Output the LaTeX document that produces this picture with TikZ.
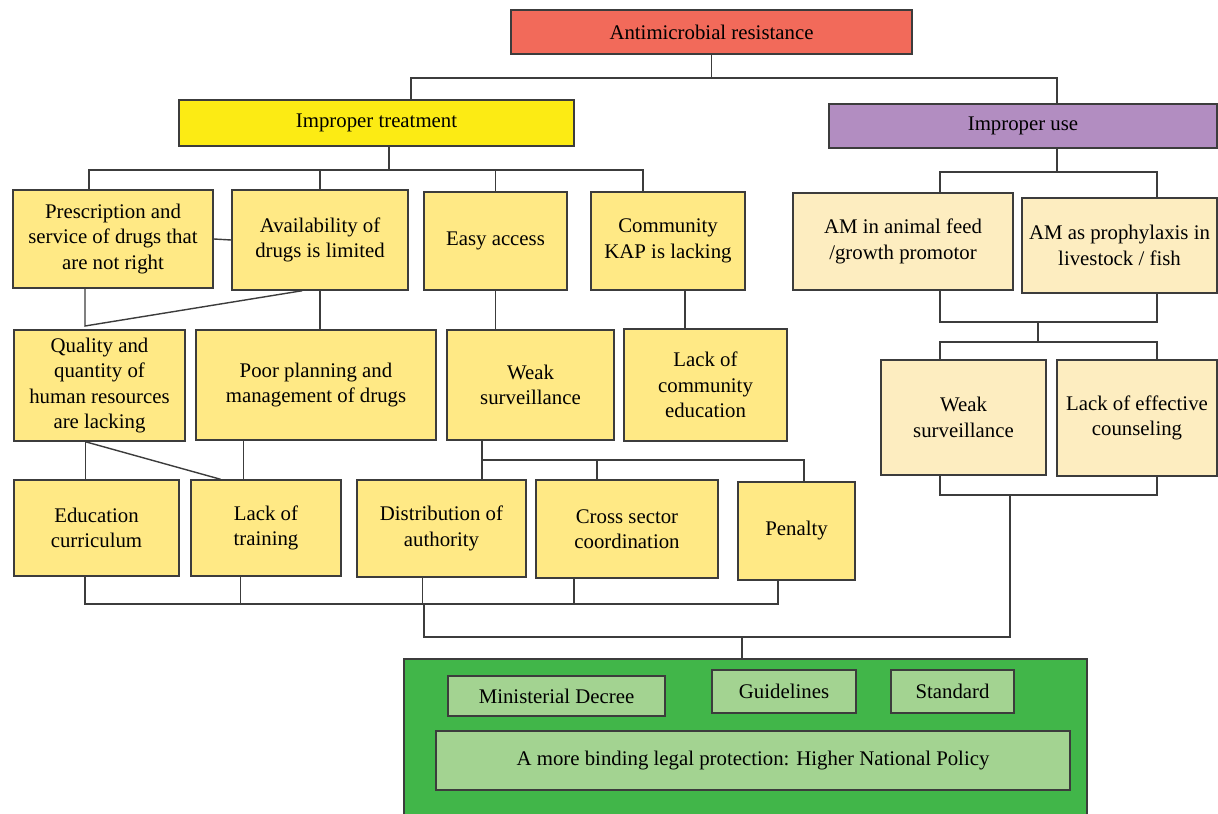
\documentclass[tikz,border=0pt]{standalone}
\usepackage{fontspec}
\setmainfont{Liberation Serif}
\usepackage{tikz}
\usetikzlibrary{calc}

\definecolor{linegray}{HTML}{3C3C3C}
\definecolor{amrred}{HTML}{F26A5A}
\definecolor{trtyellow}{HTML}{FCEB14}
\definecolor{usepurple}{HTML}{B28DC1}
\definecolor{causeyellow}{HTML}{FFE985}
\definecolor{animalcream}{HTML}{FDEDC0}
\definecolor{policygreen}{HTML}{41B649}
\definecolor{lawgreen}{HTML}{A3D391}

\newcommand{\boxfont}{\fontsize{14.8}{18.1}\selectfont}

\begin{document}
\begin{tikzpicture}[x=0.025cm,y=-0.025cm,
    box/.style={draw=linegray,line width=1pt,align=center,inner sep=2pt,font=\boxfont},
    root/.style={box,fill=amrred},
    treatment/.style={box,fill=trtyellow},
    usage/.style={box,fill=usepurple},
    cause/.style={box,fill=causeyellow},
    animal/.style={box,fill=animalcream},
    policy/.style={box,fill=policygreen},
    law/.style={box,fill=lawgreen},
    link/.style={draw=linegray,line width=1pt}]

  \useasboundingbox (0,0) rectangle (1218,814);

  % top level
  \node [root,minimum width=10.03cm,minimum height=1.1cm] (amr) at (711.5,32) {Antimicrobial resistance};
  \node [treatment,minimum width=9.88cm,minimum height=1.15cm] (trt) at (376.5,123) {Improper treatment};
  \node [usage,minimum width=9.7cm,minimum height=1.1cm] (use) at (1023,126) {Improper use};

  % improper treatment, first row
  \node [cause,minimum width=5cm,minimum height=2.45cm] (presc) at (113,239) {Prescription and\\service of drugs that\\are not right};
  \node [cause,minimum width=4.4cm,minimum height=2.5cm] (avail) at (320,240) {Availability of\\drugs is limited};
  \node [cause,minimum width=3.58cm,minimum height=2.45cm] (easy) at (495.5,241) {Easy access};
  \node [cause,minimum width=3.85cm,minimum height=2.45cm] (kap) at (668,241) {Community\\KAP is lacking};

  % improper use, first row
  \node [animal,minimum width=5.5cm,minimum height=2.43cm] (feed) at (903,241.5) {AM in animal feed\\/growth promotor};
  \node [animal,minimum width=4.88cm,minimum height=2.38cm] (proph) at (1119.5,245.5) {AM as prophylaxis in\\livestock / fish};

  % second row
  \node [cause,minimum width=4.28cm,minimum height=2.78cm] (qual) at (99.5,385.5) {Quality and\\quantity of\\human resources\\are lacking};
  \node [cause,minimum width=6cm,minimum height=2.75cm] (plan) at (316,385) {Poor planning and\\management of drugs};
  \node [cause,minimum width=4.18cm,minimum height=2.75cm] (weak) at (530.5,385) {Weak\\surveillance};
  \node [cause,minimum width=4.08cm,minimum height=2.8cm] (comm) at (705.5,385) {Lack of\\community\\education};
  \node [animal,minimum width=4.13cm,minimum height=2.88cm] (weak2) at (963.5,417.5) {Weak\\surveillance};
  \node [animal,minimum width=4cm,minimum height=2.9cm] (couns) at (1137,418) {Lack of effective\\counseling};

  % third row
  \node [cause,minimum width=4.13cm,minimum height=2.4cm] (edu) at (96.5,528) {Education\\curriculum};
  \node [cause,minimum width=3.75cm,minimum height=2.4cm] (train) at (266,528) {Lack of\\training};
  \node [cause,minimum width=4.23cm,minimum height=2.43cm] (dist) at (441.5,528.5) {Distribution of\\authority};
  \node [cause,minimum width=4.55cm,minimum height=2.45cm] (cross) at (627,529) {Cross sector\\coordination};
  \node [cause,minimum width=2.93cm,minimum height=2.45cm] (pen) at (796.5,531) {Penalty};

  % policy
  \node [policy,minimum width=17.08cm,minimum height=4.03cm] (pol) at (745.5,739.5) {};
  \node [law,minimum width=5.43cm,minimum height=1cm] (decree) at (556.5,696) {Ministerial Decree};
  \node [law,minimum width=3.6cm,minimum height=1.08cm] (guide) at (784,691.5) {Guidelines};
  \node [law,minimum width=3.08cm,minimum height=1.08cm] (std) at (952.5,691.5) {Standard};
  \node [law,minimum width=15.85cm,minimum height=1.48cm] (bind) at (753,760.5) {A more binding legal protection: Higher National Policy};

  % bus points
  \coordinate (top-l) at (411,78);
  \coordinate (top-r) at (1057,78);
  \coordinate (trt-m) at (389,170);
  \coordinate (trt-l) at (89,170);
  \coordinate (trt-r) at (643,170);
  \coordinate (use-l) at (940,172);
  \coordinate (use-r) at (1157,172);
  \coordinate (am-l) at (940,322);
  \coordinate (am-m) at (1038,322);
  \coordinate (am-r) at (1157,322);
  \coordinate (ws-l) at (940,342);
  \coordinate (ws-r) at (1157,342);
  \coordinate (presc-k) at (85,326);
  \coordinate (weak-l) at (482,460);
  \coordinate (weak-m) at (597,460);
  \coordinate (weak-r) at (804,460);
  \coordinate (low-l) at (85,604);
  \coordinate (low-m) at (424,604);
  \coordinate (low-r) at (778,604);
  \coordinate (ws2-l) at (940,495);
  \coordinate (ws2-m) at (1010,495);
  \coordinate (ws2-r) at (1157,495);
  \coordinate (join-l) at (424,637);
  \coordinate (join-m) at (742,637);

  % links
  \path [link] (amr.south) -- (amr.south |- top-l);
  \path [link] (trt.north -| top-l) |- (top-r) -- (use.north -| top-r);
  \path [link] (trt.south -| trt-m) -- (trt-m);
  \path [link] (presc.north -| trt-l) |- (trt-r) -- (kap.north -| trt-r);
  \path [link] (avail.north) -- (avail.north |- trt-l);
  \path [link] (easy.north) -- (easy.north |- trt-l);
  \path [link] (presc.east) -- (avail.west);

  \path [link] (use.south -| top-r) -- (top-r |- use-l);
  \path [link] (feed.north -| use-l) |- (use-r) -- (proph.north -| use-r);
  \path [link] (feed.south -| am-l) |- (am-r) -- (proph.south -| am-r);
  \path [link] (am-m) -- (am-m |- ws-l);
  \path [link] (weak2.north -| ws-l) |- (ws-r) -- (couns.north -| ws-r);

  \path [link] (presc.south -| presc-k) -- (presc-k) -- ($(avail.south west)!0.4!(avail.south east)$);
  \path [link] (avail.south) -- (avail.south |- plan.north);
  \path [link] (easy.south) -- (easy.south |- weak.north);
  \path [link] ($(kap.south west)!0.61!(kap.south east)$) coordinate (kap-d) -- (kap-d |- comm.north);

  \path [link] ($(qual.south west)!0.42!(qual.south east)$) coordinate (qual-d) -- (qual-d |- edu.north);
  \path [link] (qual-d) -- ($(train.north west)!0.2!(train.north east)$);
  \path [link] ($(plan.south west)!0.2!(plan.south east)$) coordinate (plan-d) -- (plan-d |- train.north);
  \path [link] (weak.south -| weak-l) -- (dist.north -| weak-l);
  \path [link] (weak-l) -- (weak-r) -- (pen.north -| weak-r);
  \path [link] (weak-m) -- (cross.north -| weak-m);

  \path [link] (edu.south -| low-l) |- (low-r) -- (pen.south -| low-r);
  \path [link] ($(train.south west)!0.33!(train.south east)$) coordinate (train-d) -- (train-d |- low-l);
  \path [link] ($(dist.south west)!0.39!(dist.south east)$) coordinate (dist-d) -- (dist-d |- low-l);
  \path [link] ($(cross.south west)!0.21!(cross.south east)$) coordinate (cross-d) -- (cross-d |- low-l);

  \path [link] (weak2.south -| ws2-l) |- (ws2-r) -- (couns.south -| ws2-r);
  \path [link] (low-m) -- (join-l) -| (ws2-m);
  \path [link] (join-m) -- (pol.north -| join-m);

\end{tikzpicture}
\end{document}
